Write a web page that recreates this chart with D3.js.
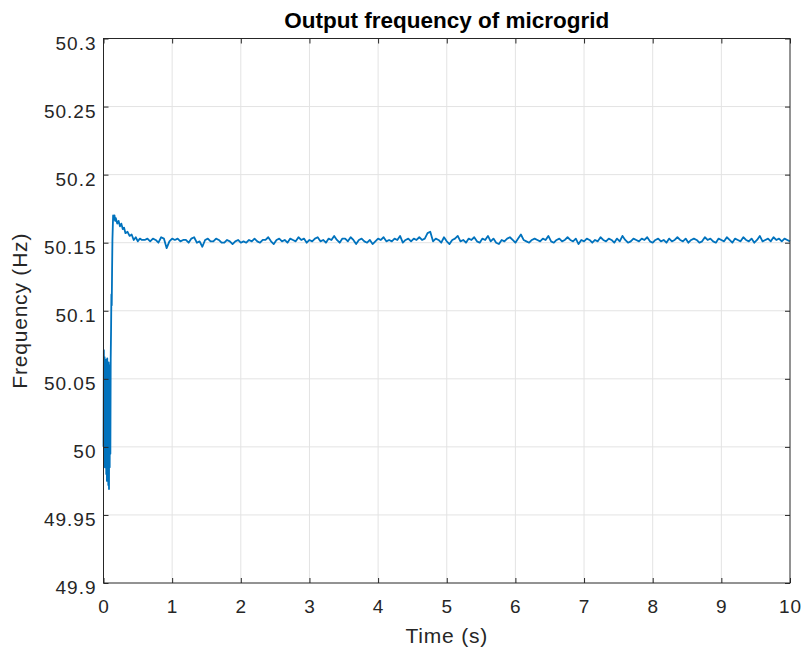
<!DOCTYPE html>
<html>
<head>
<meta charset="utf-8">
<script src="https://cdn.jsdelivr.net/npm/d3@7"></script>
<style>
  html, body { margin: 0; padding: 0; background: #fff; }
  svg { display: block; }
</style>
</head>
<body>
<div id="chart"></div>
<script>
// Axis ticks
const xTicks = [0, 1, 2, 3, 4, 5, 6, 7, 8, 9, 10];
const yTicks = [49.9, 49.95, 50, 50.05, 50.1, 50.15, 50.2, 50.25, 50.3];
const yTickLabels = ['49.9', '49.95', '50', '50.05', '50.1', '50.15', '50.2', '50.25', '50.3'];

// Start-up transient (s, Hz)
const startTime = [0, 0.005, 0.01, 0.015, 0.02, 0.025, 0.03, 0.035, 0.04, 0.045,
  0.05, 0.055, 0.06, 0.065, 0.07, 0.075, 0.08, 0.085, 0.09, 0.095,
  0.1, 0.105, 0.11, 0.115, 0.12, 0.125, 0.13, 0.14, 0.15, 0.16,
  0.17, 0.18, 0.2, 0.22, 0.24, 0.26, 0.28, 0.3, 0.32, 0.35,
  0.38, 0.41, 0.44, 0.47, 0.5, 0.53, 0.56];
const startFreq = [50.0, 50.071, 49.99, 50.066, 49.985, 50.062, 49.99, 50.064, 49.98, 50.061,
  49.975, 50.065, 49.976, 50.06, 49.972, 50.062, 49.969, 50.06, 49.985, 50.05,
  49.995, 50.065, 50.085, 50.112, 50.104, 50.13, 50.152, 50.17, 50.167, 50.17,
  50.166, 50.168, 50.164, 50.166, 50.162, 50.164, 50.16, 50.161, 50.157, 50.158,
  50.155, 50.156, 50.152, 50.154, 50.151, 50.153, 50.152];

// Steady state, sampled every 0.04 s from 0.6 s
const steadyStart = 0.6;
const steadyStep = 0.04;
const steadyFreq = [
  50.152, 50.153, 50.151, 50.153, 50.152, 50.150, 50.154, 50.153, 50.146, 50.151,
  50.153, 50.152, 50.153, 50.151, 50.152, 50.152, 50.150, 50.153, 50.154, 50.150,
  50.151, 50.147, 50.152, 50.153, 50.151, 50.151, 50.153, 50.152, 50.150, 50.150,
  50.152, 50.151, 50.149, 50.151, 50.152, 50.150, 50.151, 50.150, 50.152, 50.151,
  50.153, 50.151, 50.150, 50.152, 50.152, 50.154, 50.151, 50.149, 50.152, 50.153,
  50.151, 50.152, 50.150, 50.153, 50.152, 50.151, 50.154, 50.152, 50.153, 50.150,
  50.152, 50.151, 50.153, 50.154, 50.151, 50.152, 50.150, 50.153, 50.152, 50.155,
  50.152, 50.150, 50.153, 50.153, 50.151, 50.154, 50.152, 50.149, 50.152, 50.153,
  50.151, 50.150, 50.152, 50.149, 50.151, 50.153, 50.152, 50.154, 50.151, 50.152,
  50.151, 50.153, 50.152, 50.155, 50.150, 50.152, 50.153, 50.151, 50.153, 50.152,
  50.154, 50.152, 50.153, 50.157, 50.158, 50.151, 50.153, 50.152, 50.150, 50.154,
  50.151, 50.149, 50.152, 50.153, 50.155, 50.151, 50.152, 50.150, 50.153, 50.152,
  50.154, 50.151, 50.150, 50.153, 50.152, 50.155, 50.151, 50.153, 50.150, 50.149,
  50.152, 50.151, 50.153, 50.154, 50.152, 50.150, 50.153, 50.156, 50.152, 50.151,
  50.150, 50.152, 50.153, 50.152, 50.151, 50.153, 50.152, 50.155, 50.151, 50.150,
  50.152, 50.153, 50.151, 50.152, 50.154, 50.152, 50.151, 50.153, 50.149, 50.152,
  50.151, 50.153, 50.152, 50.150, 50.152, 50.151, 50.154, 50.152, 50.151, 50.153,
  50.152, 50.150, 50.153, 50.151, 50.155, 50.152, 50.150, 50.151, 50.153, 50.152,
  50.151, 50.153, 50.152, 50.154, 50.151, 50.150, 50.152, 50.153, 50.151, 50.152,
  50.150, 50.153, 50.151, 50.152, 50.154, 50.152, 50.151, 50.153, 50.150, 50.152,
  50.153, 50.152, 50.150, 50.151, 50.154, 50.152, 50.153, 50.151, 50.150, 50.153,
  50.152, 50.151, 50.154, 50.152, 50.150, 50.153, 50.152, 50.151, 50.154, 50.152,
  50.151, 50.153, 50.150, 50.152, 50.155, 50.151, 50.152, 50.153, 50.151, 50.154,
  50.152, 50.153, 50.151, 50.153, 50.152, 50.151
];

const width = 804, height = 654;
const margin = { left: 103.5, right: 14, top: 38.5, bottom: 71 };
const w = width - margin.left - margin.right;
const h = height - margin.top - margin.bottom;
const font = '"Liberation Sans", Arial, Helvetica, sans-serif';
const axisColor = '#262626';

// build the series
const series = startTime.map((t, i) => ({ t, f: startFreq[i] }))
  .concat(steadyFreq.map((f, i) => ({ t: steadyStart + i * steadyStep, f })));

const svg = d3.select('#chart').append('svg')
  .attr('width', width)
  .attr('height', height);

const g = svg.append('g')
  .attr('transform', `translate(${margin.left},${margin.top})`);

const x = d3.scaleLinear().domain([0, 10]).range([0, w]);
const y = d3.scaleLinear().domain([49.9, 50.3]).range([h, 0]);

// grid
g.append('g').selectAll('line')
  .data(xTicks.slice(1, -1))
  .join('line')
  .attr('x1', d => x(d)).attr('x2', d => x(d))
  .attr('y1', 0).attr('y2', h)
  .attr('stroke', '#e3e3e3');
g.append('g').selectAll('line')
  .data(yTicks.slice(1, -1))
  .join('line')
  .attr('x1', 0).attr('x2', w)
  .attr('y1', d => y(d)).attr('y2', d => y(d))
  .attr('stroke', '#e3e3e3');

// line
const line = d3.line().x(d => x(d.t)).y(d => y(d.f));
g.append('path')
  .datum(series)
  .attr('d', line)
  .attr('fill', 'none')
  .attr('stroke', '#0072BD')
  .attr('stroke-width', 1.8)
  .attr('stroke-linejoin', 'round');

// axes (ticks point inward, box on all sides)
const styleAxis = sel => {
  sel.select('.domain').remove();
  sel.selectAll('line').attr('stroke', axisColor);
  sel.selectAll('text')
    .style('font-family', font)
    .style('font-size', '19px')
    .style('letter-spacing', '1px')
    .attr('fill', axisColor);
};

g.append('g')
  .attr('transform', `translate(0,${h})`)
  .call(d3.axisBottom(x).tickValues(xTicks).tickFormat(d3.format('d'))
    .tickSizeInner(-5).tickSizeOuter(0).tickPadding(17))
  .call(styleAxis);
g.append('g')
  .call(d3.axisTop(x).tickValues(xTicks).tickFormat('')
    .tickSizeInner(-5).tickSizeOuter(0))
  .call(styleAxis);
g.append('g')
  .call(d3.axisLeft(y).tickValues(yTicks).tickFormat((d, i) => yTickLabels[i])
    .tickSizeInner(-5).tickSizeOuter(0).tickPadding(7))
  .call(styleAxis)
  .call(sel => sel.selectAll('text').attr('dy', '0.57em'));
g.append('g')
  .attr('transform', `translate(${w},0)`)
  .call(d3.axisRight(y).tickValues(yTicks).tickFormat('')
    .tickSizeInner(-5).tickSizeOuter(0))
  .call(styleAxis);

g.append('rect')
  .attr('x', 0).attr('y', 0)
  .attr('width', w).attr('height', h)
  .attr('fill', 'none')
  .attr('stroke', axisColor)
  .attr('stroke-width', 1);

// title and labels
svg.append('text')
  .attr('x', margin.left + w / 2)
  .attr('y', 28)
  .attr('text-anchor', 'middle')
  .text('Output frequency of microgrid')
  .style('font-family', font)
  .style('font-size', '22.5px')
  .style('font-weight', 'bold')
  .attr('fill', '#000');

svg.append('text')
  .attr('x', margin.left + w / 2)
  .attr('y', 643)
  .attr('text-anchor', 'middle')
  .text('Time (s)')
  .style('font-family', font)
  .style('font-size', '21px')
  .style('letter-spacing', '0.8px')
  .attr('fill', axisColor);

svg.append('text')
  .attr('transform', 'rotate(-90)')
  .attr('x', -(margin.top + h / 2))
  .attr('y', 27)
  .attr('text-anchor', 'middle')
  .text('Frequency (Hz)')
  .style('font-family', font)
  .style('font-size', '21px')
  .style('letter-spacing', '0.8px')
  .attr('fill', axisColor);
</script>
</body>
</html>
